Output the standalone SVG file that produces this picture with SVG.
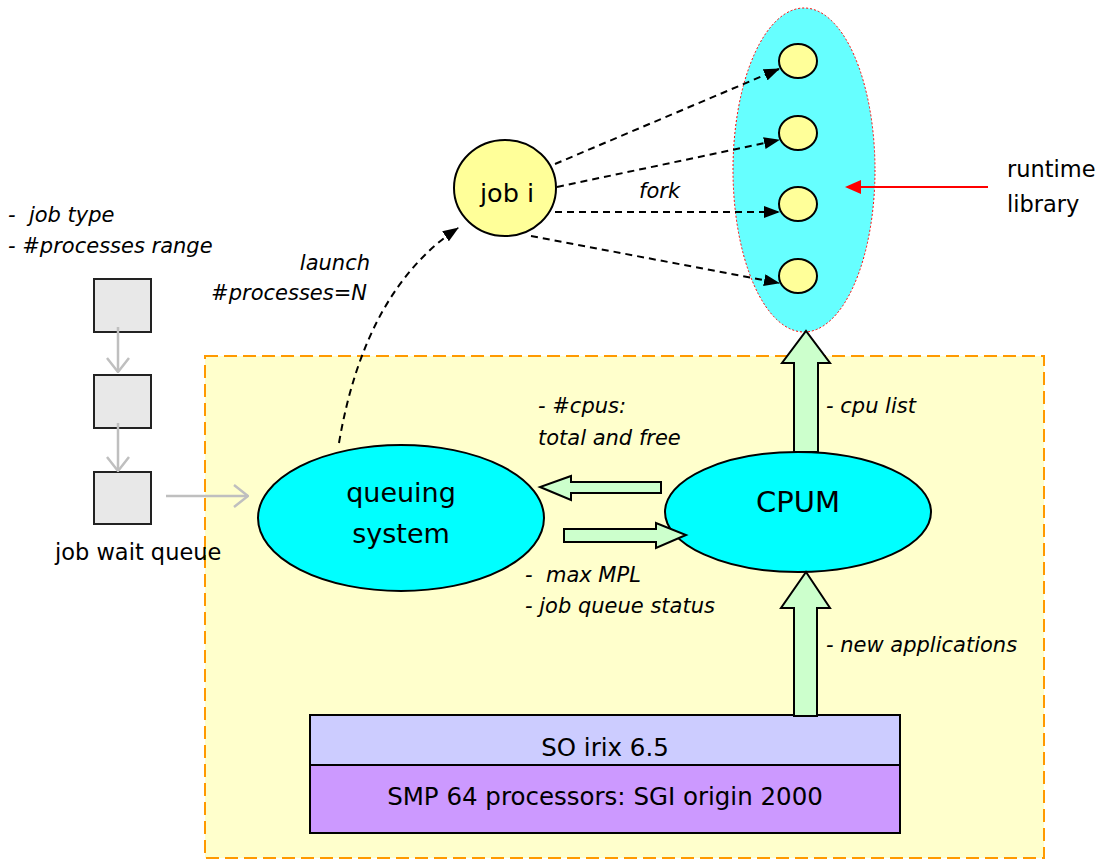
<svg xmlns="http://www.w3.org/2000/svg" width="1104" height="859" viewBox="0 0 1104 859">
<defs>
<marker id="blk" viewBox="0 0 16 12" refX="15" refY="6" markerWidth="16" markerHeight="12" markerUnits="userSpaceOnUse" orient="auto"><path d="M0,0 L16,6 L0,12 Z" fill="#000"/></marker>
<marker id="red" viewBox="0 0 16 14" refX="1" refY="7" markerWidth="16" markerHeight="14" markerUnits="userSpaceOnUse" orient="auto-start-reverse"><path d="M0,0 L16,7 L0,14 Z" fill="#ff0000"/></marker>
<marker id="gray" viewBox="0 0 16 24" refX="15" refY="12" markerWidth="16" markerHeight="24" markerUnits="userSpaceOnUse" orient="auto"><path d="M1,1 L15,12 L1,23" fill="none" stroke="#bfbfbf" stroke-width="2.5"/></marker>
</defs>
<style>
text{font-family:"DejaVu Sans","Liberation Sans",sans-serif;fill:#000;white-space:pre}
.it{font-style:italic;font-size:21px}
.n{font-size:22.5px}
.dash{fill:none;stroke:#000;stroke-width:2;stroke-dasharray:7 5}
.g{fill:#ccffcc;stroke:#000;stroke-width:2}
.ol{stroke:#000;stroke-width:2}
</style>
<rect id="frame" x="205" y="356" width="839" height="502" fill="#ffffcc" stroke="#ff9900" stroke-width="2" stroke-dasharray="13 6"/>
<g id="runtime-library">
<ellipse cx="804" cy="170" rx="71" ry="162" fill="#66ffff" stroke="#ff0000" stroke-width="1" stroke-dasharray="2 2"/>
<ellipse cx="798" cy="61" rx="19" ry="17" fill="#ffff99" class="ol"/>
<ellipse cx="798" cy="133" rx="19" ry="17" fill="#ffff99" class="ol"/>
<ellipse cx="798" cy="204" rx="19" ry="17" fill="#ffff99" class="ol"/>
<ellipse cx="798" cy="276" rx="19" ry="17" fill="#ffff99" class="ol"/>
</g>
<g id="runtime-label">
<text x="1007" y="177" class="n">runtime</text>
<text x="1007" y="212" class="n">library</text>
</g>
<g id="job-i">
<ellipse cx="505" cy="188" rx="51" ry="48" fill="#ffff99" class="ol"/>
<text x="507" y="202" font-size="25.5" text-anchor="middle">job i</text>
</g>
<g id="queue">
<rect x="94" y="279" width="57" height="53" fill="#e8e8e8" stroke="#222" stroke-width="2"/>
<rect x="94" y="375" width="57" height="53" fill="#e8e8e8" stroke="#222" stroke-width="2"/>
<rect x="94" y="472" width="57" height="52" fill="#e8e8e8" stroke="#222" stroke-width="2"/>
<text x="55" y="560" class="n">job wait queue</text>
<text x="8" y="222" class="it">-  job type</text>
<text x="8" y="253" class="it">- #processes range</text>
</g>
<g id="queuing-system">
<ellipse cx="401" cy="518" rx="143" ry="73" fill="#00ffff" class="ol"/>
<text x="401" y="502" font-size="27" text-anchor="middle">queuing</text>
<text x="401" y="543" font-size="27" text-anchor="middle">system</text>
</g>
<g id="cpum">
<ellipse cx="798" cy="512" rx="133" ry="60" fill="#00ffff" class="ol"/>
<text x="798" y="512" font-size="29" text-anchor="middle">CPUM</text>
</g>
<g id="os">
<rect x="310" y="715" width="590" height="50" fill="#ccccff" class="ol"/>
<text x="605" y="756" font-size="24.5" text-anchor="middle">SO irix 6.5</text>
</g>
<g id="hardware">
<rect x="310" y="765" width="590" height="68" fill="#cc99ff" class="ol"/>
<text x="605" y="805" font-size="24.5" text-anchor="middle">SMP 64 processors: SGI origin 2000</text>
</g>
<g id="connectors">
<path class="dash" d="M555,164 L779,69" marker-end="url(#blk)"/>
<path class="dash" d="M557,187 L779,140" marker-end="url(#blk)"/>
<path class="dash" d="M555,212 L779,212" marker-end="url(#blk)"/>
<path class="dash" d="M531,236 L779,283" marker-end="url(#blk)"/>
<path class="dash" d="M339,443 Q365,290 458,228" marker-end="url(#blk)"/>
<line x1="988" y1="187" x2="860" y2="187" stroke="#ff0000" stroke-width="2" marker-end="url(#red)"/>
<line x1="118" y1="327" x2="118" y2="372" stroke="#bfbfbf" stroke-width="2.5" marker-end="url(#gray)"/>
<line x1="118" y1="423" x2="118" y2="471" stroke="#bfbfbf" stroke-width="2.5" marker-end="url(#gray)"/>
<line x1="166" y1="496" x2="248" y2="496" stroke="#bfbfbf" stroke-width="2.5" marker-end="url(#gray)"/>
<path class="g" d="M661,482 L661,493 L571,493 L571,500 L540,487 L571,476 L571,482 Z"/>
<path class="g" d="M564,529 L656,529 L656,523 L686,535 L656,548 L656,542 L564,542 Z"/>
<path class="g" d="M794,452 L794,363 L782,363 L806,331 L830,363 L818,363 L818,452 Z"/>
<path class="g" d="M794,716 L794,608 L781,608 L806,572 L830,608 L817,608 L817,716 Z"/>
</g>
<g id="labels">
<text x="639" y="198" class="it">fork</text>
<text x="370" y="270" class="it" text-anchor="end">launch</text>
<text x="367" y="300" class="it" text-anchor="end">#processes=N</text>
<text x="538" y="413" class="it">- #cpus:</text>
<text x="538" y="445" class="it">total and free</text>
<text x="826" y="413" class="it">- cpu list</text>
<text x="525" y="582" class="it">-  max MPL</text>
<text x="525" y="613" class="it">- job queue status</text>
<text x="826" y="652" class="it">- new applications</text>
</g>
</svg>
